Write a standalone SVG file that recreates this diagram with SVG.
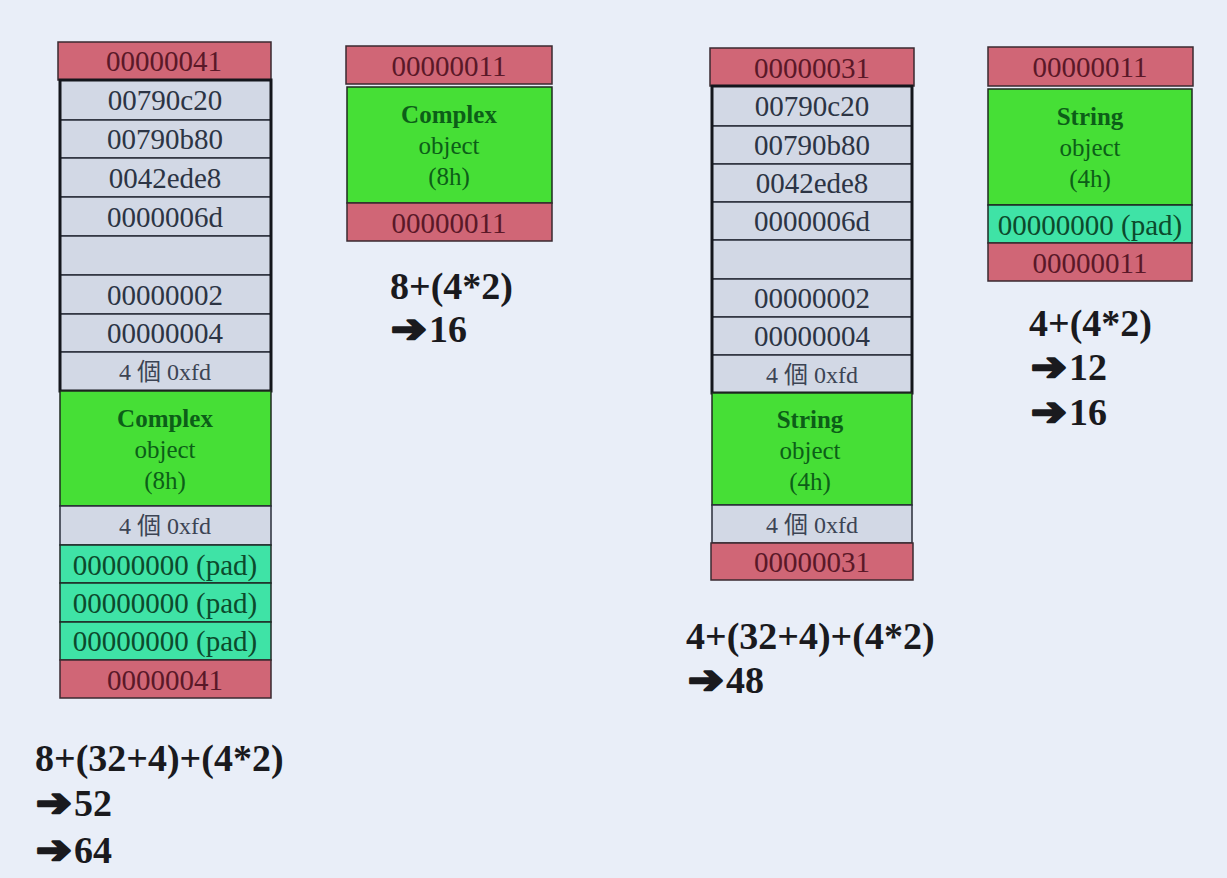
<svg xmlns="http://www.w3.org/2000/svg" width="1227" height="878" viewBox="0 0 1227 878">
<style>
text{font-family:"Liberation Serif","Noto Sans CJK TC",serif;text-anchor:middle}
.r{fill:#d06676;stroke:#3a2a30;stroke-width:1.5}
.g{fill:#d2d8e5;stroke:#2a2e3a;stroke-width:1.5}
.o{fill:#46df36;stroke:#1f2a20;stroke-width:1.5}
.p{fill:#3fe3a6;stroke:#1f2a26;stroke-width:1.5}
.box{fill:none;stroke:#14161c;stroke-width:3}
.tr{font-size:29px;fill:#5a1828}
.tg{font-size:29px;fill:#2c3444}
.ts{font-size:24px;fill:#3c4454}
.to{font-size:25px;fill:#0c5e18}
.tb{font-weight:bold}
.tp{font-size:29px;fill:#0c4a2c}
.f{font-size:38px;font-weight:bold;fill:#1a1a1e;text-anchor:start}
.ar{font-family:"DejaVu Sans",sans-serif;font-size:34px;font-weight:bold;fill:#1a1a1e;stroke:#1a1a1e;stroke-width:2.2;stroke-linejoin:round;text-anchor:start}
</style>
<rect width="1227" height="878" fill="#e9eef8"/>

<g id="block1">
<rect class="r" x="58" y="42" width="213" height="38"/>
<text class="tr" x="164" y="71">00000041</text>
<rect class="g" x="60" y="80" width="211" height="40"/><text class="tg" x="165" y="110">00790c20</text>
<rect class="g" x="60" y="120" width="211" height="38"/><text class="tg" x="165" y="149">00790b80</text>
<rect class="g" x="60" y="158" width="211" height="39"/><text class="tg" x="165" y="188">0042ede8</text>
<rect class="g" x="60" y="197" width="211" height="39"/><text class="tg" x="165" y="227">0000006d</text>
<rect class="g" x="60" y="236" width="211" height="39"/>
<rect class="g" x="60" y="275" width="211" height="39"/><text class="tg" x="165" y="305">00000002</text>
<rect class="g" x="60" y="314" width="211" height="38"/><text class="tg" x="165" y="343">00000004</text>
<rect class="g" x="60" y="352" width="211" height="39"/><text class="ts" x="165" y="380">4 個 0xfd</text>
<rect class="box" x="60" y="80" width="211" height="311"/>
<rect class="o" x="60" y="391" width="211" height="115"/>
<text class="to tb" x="165" y="427">Complex</text>
<text class="to" x="165" y="458">object</text>
<text class="to" x="165" y="489">(8h)</text>
<rect class="g" x="60" y="506" width="211" height="39"/><text class="ts" x="165" y="534">4 個 0xfd</text>
<rect class="p" x="60" y="545" width="211" height="38"/><text class="tp" x="165" y="575">00000000 (pad)</text>
<rect class="p" x="60" y="583" width="211" height="39"/><text class="tp" x="165" y="613">00000000 (pad)</text>
<rect class="p" x="60" y="622" width="211" height="38"/><text class="tp" x="165" y="651">00000000 (pad)</text>
<rect class="r" x="60" y="660" width="211" height="38"/><text class="tr" x="165" y="690">00000041</text>
</g>

<g id="block2">
<rect class="r" x="346" y="46" width="206" height="38"/><text class="tr" x="449" y="76">00000011</text>
<rect class="o" x="347" y="87" width="205" height="116"/>
<text class="to tb" x="449" y="123">Complex</text>
<text class="to" x="449" y="154">object</text>
<text class="to" x="449" y="185">(8h)</text>
<rect class="r" x="347" y="203" width="205" height="38"/><text class="tr" x="449" y="233">00000011</text>
</g>

<g id="block3">
<rect class="r" x="710" y="48" width="204" height="38"/><text class="tr" x="812" y="78">00000031</text>
<rect class="g" x="712" y="86" width="200" height="40"/><text class="tg" x="812" y="116">00790c20</text>
<rect class="g" x="712" y="126" width="200" height="38"/><text class="tg" x="812" y="155">00790b80</text>
<rect class="g" x="712" y="164" width="200" height="38"/><text class="tg" x="812" y="193">0042ede8</text>
<rect class="g" x="712" y="202" width="200" height="38"/><text class="tg" x="812" y="231">0000006d</text>
<rect class="g" x="712" y="240" width="200" height="39"/>
<rect class="g" x="712" y="279" width="200" height="38"/><text class="tg" x="812" y="308">00000002</text>
<rect class="g" x="712" y="317" width="200" height="38"/><text class="tg" x="812" y="346">00000004</text>
<rect class="g" x="712" y="355" width="200" height="38"/><text class="ts" x="812" y="383">4 個 0xfd</text>
<rect class="box" x="712" y="86" width="200" height="307"/>
<rect class="o" x="712" y="393" width="200" height="112"/>
<text class="to tb" x="810" y="428">String</text>
<text class="to" x="810" y="459">object</text>
<text class="to" x="810" y="490">(4h)</text>
<rect class="g" x="712" y="505" width="200" height="38"/><text class="ts" x="812" y="533">4 個 0xfd</text>
<rect class="r" x="711" y="543" width="202" height="37"/><text class="tr" x="812" y="572">00000031</text>
</g>

<g id="block4">
<rect class="r" x="988" y="47" width="205" height="39"/><text class="tr" x="1090" y="77">00000011</text>
<rect class="o" x="988" y="89" width="204" height="116"/>
<text class="to tb" x="1090" y="125">String</text>
<text class="to" x="1090" y="156">object</text>
<text class="to" x="1090" y="187">(4h)</text>
<rect class="p" x="988" y="205" width="204" height="38"/><text class="tp" x="1090" y="235">00000000 (pad)</text>
<rect class="r" x="988" y="243" width="204" height="38"/><text class="tr" x="1090" y="273">00000011</text>
</g>

<g id="calc1">
<text class="f" x="35" y="771">8+(32+4)+(4*2)</text>
<text class="ar" transform="translate(36,816) scale(1.25,1.15)">➔</text><text class="f" x="74" y="816">52</text>
<text class="ar" transform="translate(36,863) scale(1.25,1.15)">➔</text><text class="f" x="74" y="863">64</text>
</g>
<g id="calc2">
<text class="f" x="390" y="299">8+(4*2)</text>
<text class="ar" transform="translate(391,342) scale(1.25,1.15)">➔</text><text class="f" x="429" y="342">16</text>
</g>
<g id="calc3">
<text class="f" x="686" y="649">4+(32+4)+(4*2)</text>
<text class="ar" transform="translate(688,693) scale(1.25,1.15)">➔</text><text class="f" x="726" y="693">48</text>
</g>
<g id="calc4">
<text class="f" x="1029" y="336">4+(4*2)</text>
<text class="ar" transform="translate(1031,380) scale(1.25,1.15)">➔</text><text class="f" x="1069" y="380">12</text>
<text class="ar" transform="translate(1031,425) scale(1.25,1.15)">➔</text><text class="f" x="1069" y="425">16</text>
</g>
<g id="connectors"/>
</svg>
